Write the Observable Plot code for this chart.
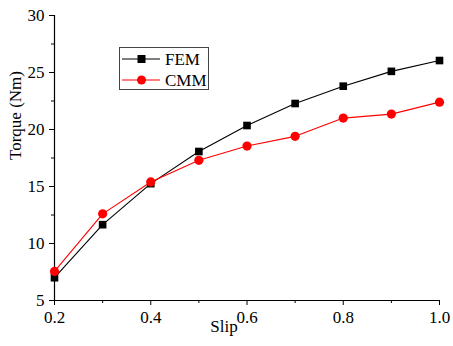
<!DOCTYPE html>
<html><head><meta charset="utf-8">
<script src="https://cdn.jsdelivr.net/npm/d3@7"></script>
<script src="https://cdn.jsdelivr.net/npm/@observablehq/plot@0.6"></script>
<style>
body{margin:0;background:#fff;font-family:"Liberation Serif",serif;}
#wrap{position:relative;width:453px;height:346px;}
#legend{position:absolute;left:119px;top:47px;}
</style>
</head><body>
<div id="wrap"></div>
<script>
const slip = [0.2, 0.3, 0.4, 0.5, 0.6, 0.7, 0.8, 0.9, 1.0];
const fem = [7.0, 11.65, 15.25, 18.07, 20.35, 22.28, 23.8, 25.1, 26.05];
const cmm = [7.55, 12.6, 15.4, 17.3, 18.55, 19.4, 21.0, 21.35, 22.4];
const series = ["FEM", "CMM"];
const colors = ["#000000", "#ff0000"];
const xTicks = [0.2, 0.4, 0.6, 0.8, 1.0];
const xMinor = [0.3, 0.5, 0.7, 0.9];
const yTicks = [5, 10, 15, 20, 25, 30];
const yMinor = [7.5, 12.5, 17.5, 22.5, 27.5];

const femData = slip.map((s, i) => ({slip: s, torque: fem[i]}));
const cmmData = slip.map((s, i) => ({slip: s, torque: cmm[i]}));

const plot = Plot.plot({
  width: 453, height: 346,
  marginLeft: 54, marginRight: 14, marginTop: 15, marginBottom: 46,
  style: {fontFamily: "Liberation Serif, serif", fontSize: "17px", color: "#000", background: "#fff"},
  x: {domain: [0.2, 1.0]},
  y: {domain: [5, 30]},
  marks: [
    Plot.axisX({ticks: xTicks, tickSize: 5, tickFormat: d => d.toFixed(1), label: null, tickPadding: 5, fontSize: 17}),
    Plot.axisX({ticks: xMinor, tickSize: 3, text: null, label: null}),
    Plot.axisY({ticks: yTicks, tickSize: 5, tickFormat: d => String(d), label: null, tickPadding: 5, fontSize: 17}),
    Plot.axisY({ticks: yMinor, tickSize: 3, text: null, label: null}),
    Plot.ruleX([0.2], {stroke: "#000", strokeWidth: 1.2}),
    Plot.ruleY([5], {stroke: "#000", strokeWidth: 1.2}),
    Plot.line(femData, {x: "slip", y: "torque", stroke: colors[0], strokeWidth: 1.1}),
    Plot.line(cmmData, {x: "slip", y: "torque", stroke: colors[1], strokeWidth: 1.1}),
    Plot.dot(femData, {x: "slip", y: "torque", symbol: "square", fill: colors[0], r: 4.3}),
    Plot.dot(cmmData, {x: "slip", y: "torque", symbol: "circle", fill: colors[1], r: 4.6}),
    Plot.text(["Slip"], {frameAnchor: "bottom", dx: -23, dy: 31, fontSize: 17, fill: "#000"}),
    Plot.text(["Torque (Nm)"], {frameAnchor: "left", dx: -39, dy: 2, rotate: -90, fontSize: 17, fill: "#000"})
  ]
});
document.getElementById("wrap").appendChild(plot);

// Legend
const lg = d3.select("#wrap").append("svg").attr("id", "legend").attr("width", 91).attr("height", 44);
lg.append("rect").attr("x", 0.5).attr("y", 0.5).attr("width", 89).attr("height", 42)
  .attr("fill", "#fff").attr("stroke", "#444").attr("stroke-width", 1);
series.forEach((name, i) => {
  const yy = 12 + i * 21;
  lg.append("line").attr("x1", 3).attr("x2", 41).attr("y1", yy).attr("y2", yy)
    .attr("stroke", colors[i]).attr("stroke-width", 1.1);
  if (i === 0) lg.append("rect").attr("x", 18.5).attr("y", yy - 4).attr("width", 8).attr("height", 8).attr("fill", colors[i]);
  else lg.append("circle").attr("cx", 22.5).attr("cy", yy).attr("r", 4.5).attr("fill", colors[i]);
  lg.append("text").attr("x", 46).attr("y", yy + 5.5).text(name)
    .attr("font-family", "Liberation Serif, serif").attr("font-size", 17).attr("fill", "#000");
});
</script>
</body></html>
